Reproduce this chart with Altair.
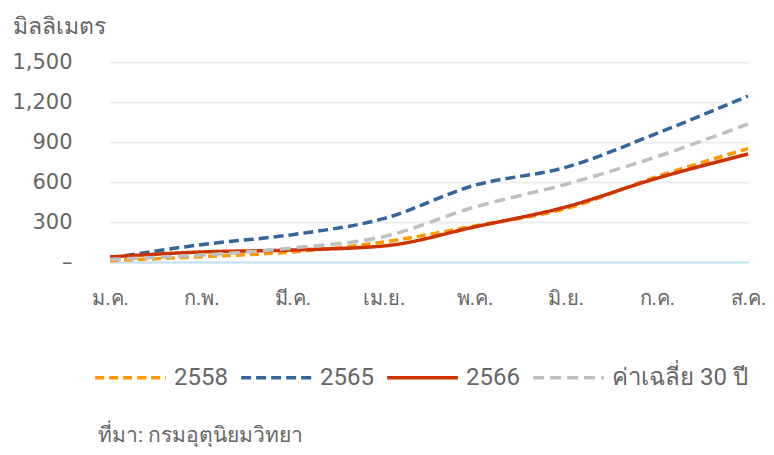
import altair as alt
import pandas as pd

months = ["ม.ค.", "ก.พ.", "มี.ค.", "เม.ย.", "พ.ค.", "มิ.ย.", "ก.ค.", "ส.ค."]
series_names = ["2558", "2565", "2566", "ค่าเฉลี่ย 30 ปี"]
v2558 = [10, 40, 75, 150, 270, 400, 640, 850]
v2565 = [30, 130, 205, 325, 575, 710, 965, 1245]
v2566 = [38, 75, 90, 120, 263, 413, 628, 810]
vavg = [20, 52, 105, 190, 412, 583, 790, 1035]
colors = ["#FF9900", "#336699", "#CC3300", "#BFBFBF"]
dashes = [[9, 5], [10, 5], [1, 0], [11, 6]]
source_text = "ที่มา: กรมอุตุนิยมวิทยา"

rows = []
for name, vals in zip(series_names, [v2558, v2565, v2566, vavg]):
    for m, v in zip(months, vals):
        rows.append({"month": m, "series": name, "value": v})
df = pd.DataFrame(rows)

NUMFONT = "DejaVu Sans"
FONT = "Roboto"
GREY = "#666666"

lines = alt.Chart(df).mark_line(strokeWidth=3.5, interpolate="monotone").encode(
    x=alt.X("month:N", sort=months,
            scale=alt.Scale(type="point", padding=0),
            axis=alt.Axis(title=None, labelFontSize=20, labelColor=GREY,
                          labelFont=FONT, labelPadding=26, ticks=False,
                          domainColor="#BDE3F5", domainWidth=2, grid=False,
                          labelAngle=0)),
    y=alt.Y("value:Q",
            scale=alt.Scale(domain=[0, 1500], nice=False),
            axis=alt.Axis(values=[0, 300, 600, 900, 1200, 1500],
                          labelExpr="datum.value == 0 ? '–' : format(datum.value, ',')",
                          title="มิลลิเมตร", titleAngle=0, titleX=-98, titleY=-29,
                          titleAlign="left", titleBaseline="alphabetic",
                          titleFontSize=23, titleFontWeight="normal",
                          titleColor=GREY, titleFont=FONT,
                          labelFontSize=21, labelColor=GREY, labelFont=NUMFONT,
                          labelPadding=38, ticks=False, domain=False,
                          gridColor="#EEEEEE", gridWidth=2)),
    color=alt.Color("series:N", sort=series_names,
                    scale=alt.Scale(domain=series_names, range=colors),
                    legend=alt.Legend(title=None, orient="none", direction="horizontal",
                                      legendX=-17, legendY=278,
                                      symbolType="stroke", symbolSize=5000,
                                      symbolStrokeWidth=3.5, labelFontSize=24,
                                      labelColor=GREY, labelFont=FONT,
                                      labelOffset=6, columnPadding=6,
                                      labelLimit=300)),
    strokeDash=alt.StrokeDash("series:N", sort=series_names,
                              scale=alt.Scale(domain=series_names, range=dashes),
                              legend=None),
    order=alt.Order("series:N"),
)

src = alt.Chart(pd.DataFrame({"t": [source_text]})).mark_text(
    align="left", baseline="alphabetic", fontSize=21, color=GREY, font=FONT
).encode(x=alt.value(-12), y=alt.value(380), text="t:N")

chart = alt.layer(lines, src).properties(
    width=638, height=200,
    autosize=alt.AutoSizeParams(type="none"),
    padding={"left": 102, "top": 54, "right": 18, "bottom": 185},
).configure(font=FONT).configure_view(stroke=None)

chart.save("out.html", embed_options={"renderer": "svg", "actions": False})
